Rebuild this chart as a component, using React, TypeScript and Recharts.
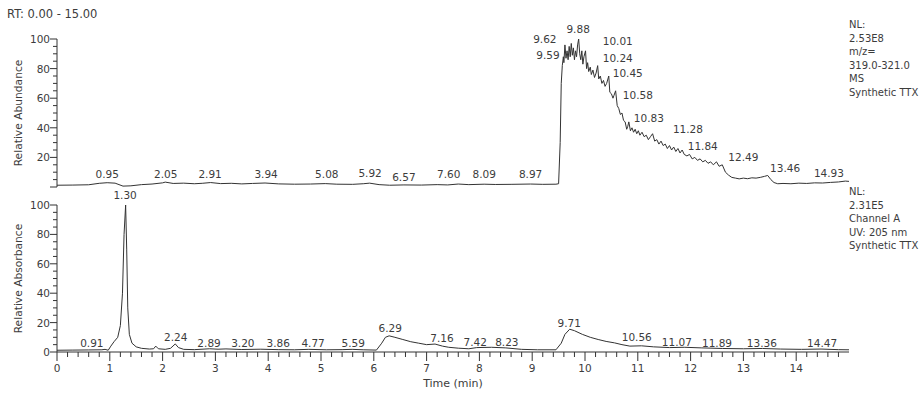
import React from 'react';
import { LineChart, Line, XAxis, YAxis, ReferenceDot } from 'recharts';

const FONT = '"DejaVu Sans", Verdana, sans-serif';
const INK = '#333';
const TEXT = '#3c3c3c';

// MS trace, m/z 319.0-321.0 (relative abundance)
const msTime = [
  0, 0.3, 0.6, 0.8, 0.95, 1.1, 1.25, 1.4, 1.6, 1.8, 2.0, 2.05, 2.2, 2.4, 2.6, 2.75, 2.91, 3.1, 3.3, 3.5,
  3.7, 3.94, 4.2, 4.5, 4.8, 5.08, 5.3, 5.6, 5.8, 5.92, 6.1, 6.3, 6.57, 6.9, 7.2, 7.4, 7.6, 7.8, 8.09, 8.3,
  8.6, 8.97, 9.2, 9.45, 9.5, 9.53, 9.55, 9.57, 9.59, 9.6, 9.62, 9.64, 9.66, 9.68, 9.7, 9.72, 9.74, 9.76, 9.78, 9.8,
  9.82, 9.84, 9.86, 9.88, 9.9, 9.92, 9.94, 9.96, 9.98, 10.01, 10.03, 10.05, 10.07, 10.1, 10.12, 10.15, 10.18, 10.21, 10.24, 10.26,
  10.29, 10.32, 10.35, 10.38, 10.41, 10.45, 10.47, 10.5, 10.53, 10.55, 10.58, 10.61, 10.64, 10.67, 10.7, 10.73, 10.76, 10.79, 10.81, 10.83,
  10.86, 10.89, 10.92, 10.95, 10.98, 11.01, 11.04, 11.08, 11.12, 11.16, 11.2, 11.24, 11.28, 11.32, 11.36, 11.4, 11.44, 11.48, 11.52, 11.56,
  11.6, 11.64, 11.68, 11.72, 11.76, 11.8, 11.84, 11.88, 11.93, 11.98, 12.03, 12.08, 12.13, 12.18, 12.23, 12.28, 12.33, 12.38, 12.43, 12.49,
  12.54, 12.6, 12.66, 12.72, 12.78, 12.85, 12.92, 13.0, 13.08, 13.16, 13.24, 13.32, 13.4, 13.46, 13.52, 13.58, 13.65, 13.75, 13.9, 14.05,
  14.2, 14.35, 14.5, 14.65, 14.8, 14.93, 15.0,
];
const msAbundance = [
  1.2, 1.3, 1.5, 2.5, 2.9, 2.6, 0.6, 0.8, 1.6, 2.0, 2.8, 3.3, 2.4, 2.6, 2.2, 2.5, 3.0, 2.3, 2.5, 2.1,
  2.4, 2.7, 2.1, 1.9, 2.0, 2.3, 1.9, 1.8, 2.2, 2.6, 1.6, 1.2, 1.4, 1.3, 1.6, 1.4, 2.0, 1.6, 1.9, 1.7,
  1.8, 2.0, 1.8, 1.9, 2.2, 30, 70, 82, 88, 84, 96, 87, 92, 86, 95, 88, 97, 89, 94, 86,
  92, 88, 96, 100, 90, 86, 92, 83, 88, 92, 80, 84, 78, 81, 76, 79, 74, 77, 82, 73,
  75, 70, 72, 68, 70, 75, 64, 63, 60, 62, 65, 55, 53, 49, 50, 45, 44, 39, 41, 44,
  38, 40, 37, 39, 36, 38, 35, 37, 34, 35, 32, 34, 36, 31, 32, 29, 31, 28, 29, 26,
  28, 25, 27, 24, 26, 23, 25, 22, 21, 22, 19, 20, 18, 19, 17, 18, 16, 17, 15, 17,
  14, 15, 10, 8, 6.5, 6, 5.5, 6, 5.6, 6.2, 6, 6.5, 7.2, 7.8, 5, 3, 2.2, 2.4, 2.2, 2.6,
  2.4, 2.8, 2.7, 3.1, 3.4, 4.0, 3.8,
];

// UV trace, channel A 205 nm (relative absorbance)
const uvTime = [
  0, 0.3, 0.6, 0.85, 0.91, 0.97, 1.02, 1.08, 1.15, 1.2, 1.24, 1.27, 1.3, 1.32, 1.34, 1.37, 1.42, 1.5, 1.6, 1.75,
  1.83, 1.87, 1.92, 2.05, 2.15, 2.24, 2.3, 2.4, 2.6, 2.89, 3.05, 3.2, 3.5, 3.86, 4.2, 4.5, 4.77, 5.1, 5.4, 5.59,
  5.8, 6.05, 6.15, 6.22, 6.29, 6.4, 6.55, 6.7, 6.85, 7.0, 7.16, 7.3, 7.42, 7.6, 7.8, 7.95, 8.23, 8.5, 8.8, 9.1,
  9.45, 9.55, 9.62, 9.71, 9.8, 9.95, 10.1, 10.25, 10.4, 10.56, 10.7, 10.85, 11.07, 11.3, 11.6, 11.89, 12.2, 12.6, 13.0, 13.36,
  13.7, 14.1, 14.47, 14.8, 15.0,
];
const uvAbsorbance = [
  1.2, 1.3, 1.4, 1.5, 1.8, 1.2, 4, 7, 10, 18, 40, 80, 100, 70, 30, 12, 6, 3.5, 2.5, 2,
  2.2, 4, 2.2, 1.8, 2.5, 5.5, 3, 1.8, 1.6, 2.2, 1.9, 2.1, 1.7, 1.9, 1.6, 1.5, 1.8, 1.5, 1.6, 1.8,
  1.5, 1.3, 6, 10, 11, 10, 8.5, 7, 6, 5, 5.4, 4, 3.2, 2.6, 2.2, 3, 3.2, 2.8, 1.8, 1.5,
  1.5, 6, 12, 15.5, 14.5, 12, 10, 8.5, 7.2, 6.2, 5, 4, 4.2, 3.5, 3, 3.2, 2.8, 2.4, 2.2, 2.4,
  2, 1.8, 2, 1.6, 1.5,
];

// peak labels: text and where it sits (time, level)
const msPeakText = ['0.95', '2.05', '2.91', '3.94', '5.08', '5.92', '6.57', '7.60', '8.09', '8.97', '9.62', '9.59', '9.88',
  '10.01', '10.24', '10.45', '10.58', '10.83', '11.28', '11.84', '12.49', '13.46', '14.93'];
const msPeakTime = [0.95, 2.06, 2.9, 3.96, 5.11, 5.93, 6.57, 7.42, 8.09, 8.97, 9.24, 9.3, 9.87,
  10.62, 10.62, 10.81, 11.0, 11.21, 11.95, 12.23, 13.0, 13.79, 14.62];
const msPeakLevel = [8.8, 8.8, 8.8, 8.8, 8.8, 9.5, 6.8, 8.8, 8.8, 8.8, 100, 89, 107,
  98.6, 87, 77, 62, 46.6, 39, 27.7, 20, 12.8, 9.5];

const uvPeakText = ['0.91', '1.30', '2.24', '2.89', '3.20', '3.86', '4.77', '5.59', '6.29', '7.16', '7.42', '8.23',
  '9.71', '10.56', '11.07', '11.89', '13.36', '14.47'];
const uvPeakTime = [0.66, 1.29, 2.25, 2.88, 3.52, 4.19, 4.85, 5.61, 6.31, 7.29, 7.92, 8.52,
  9.7, 10.98, 11.74, 12.5, 13.35, 14.49];
const uvPeakLevel = [6, 107, 10, 6, 6, 6, 6, 6, 16, 9.5, 7, 7,
  20, 10, 7, 6, 6, 6];

const xLabels = [0, 1, 2, 3, 4, 5, 6, 7, 8, 9, 10, 11, 12, 13, 14];
const yTicks = [0, 5, 10, 15, 20, 25, 30, 35, 40, 45, 50, 55, 60, 65, 70, 75, 80, 85, 90, 95, 100];
const msYLabels = [20, 40, 60, 80, 100];
const uvYLabels = [0, 20, 40, 60, 80, 100];

const msInfo = ['NL:', '2.53E8', 'm/z=', '319.0-321.0', 'MS', 'Synthetic TTX'];
const uvInfo = ['NL:', '2.31E5', 'Channel A', 'UV: 205 nm', 'Synthetic TTX'];

const xTicks = xLabels.flatMap(v => [0, 0.2, 0.4, 0.6, 0.8].map(s => +(v + s).toFixed(1)));

const msData = msTime.map((t, i) => ({ t, v: msAbundance[i] }));
const uvData = uvTime.map((t, i) => ({ t, v: uvAbsorbance[i] }));

const textStyle = { fontFamily: FONT, fontSize: 10.5, fill: TEXT };

const makeYTick = (labels: number[]) => (props: any) => {
  const { x, y, payload } = props;
  const major = labels.includes(payload.value) || payload.value === 0;
  const shown = labels.includes(payload.value);
  return (
    <g>
      <line x1={x - (major ? 7 : 4)} x2={x} y1={y} y2={y} stroke={INK} strokeWidth={1} />
      {shown && (
        <text x={x - 7} y={y} dy={4} textAnchor="end" style={textStyle}>{payload.value}</text>
      )}
    </g>
  );
};

const XTick = (props: any) => {
  const { x, y, payload } = props;
  const major = xLabels.includes(payload.value);
  return (
    <g>
      <line x1={x} x2={x} y1={y} y2={y + (major ? 9 : 5)} stroke={INK} strokeWidth={1} />
      {major && (
        <text x={x} y={y + 20} textAnchor="middle" style={textStyle}>{payload.value}</text>
      )}
    </g>
  );
};

const peakLabel = (text: string) => (p: any) => (
  <text x={p.cx} y={p.cy} dy={4} textAnchor="middle" style={textStyle}>{text}</text>
);

const yTitle = (title: string) => (p: any) => {
  const vb = p.viewBox;
  const cy = vb.y + vb.height / 2;
  return (
    <text x={18} y={cy} transform={`rotate(-90, 18, ${cy})`} dy={4} textAnchor="middle" style={{ ...textStyle, fontSize: 10.7 }}>
      {title}
    </text>
  );
};

const InfoBlock = ({ lines, top }: { lines: string[]; top: number }) => (
  <div style={{ position: 'absolute', left: 849, top, fontFamily: FONT, fontSize: 10, lineHeight: '13.6px', color: TEXT, whiteSpace: 'nowrap' }}>
    {lines.map(l => <div key={l}>{l}</div>)}
  </div>
);

export default function App() {
  return (
    <div style={{ position: 'absolute', left: 0, top: 0, width: 922, height: 394, background: '#fff', overflow: 'hidden' }}>
      <div style={{ position: 'absolute', left: 7, top: 7, fontFamily: FONT, fontSize: 11.5, color: TEXT }}>
        RT: 0.00 - 15.00
      </div>

      <div style={{ position: 'absolute', left: 0, top: 0 }}>
        <LineChart width={922} height={200} data={msData} margin={{ top: 39, right: 73, bottom: 13, left: 0 }}>
          <XAxis dataKey="t" type="number" domain={[0, 15]} allowDataOverflow tick={false} tickLine={false} height={0} axisLine={{ stroke: INK }} />
          <YAxis type="number" domain={[0, 100]} allowDataOverflow width={57} ticks={yTicks} interval={0}
            tickSize={0} tickMargin={0} tickLine={false} axisLine={{ stroke: INK }} tick={makeYTick(msYLabels)}
            label={{ content: yTitle('Relative Abundance') }} />
          <Line dataKey="v" type="linear" stroke={INK} strokeWidth={1} dot={false} isAnimationActive={false} />
          {msPeakText.map((txt, i) => (
            <ReferenceDot key={txt + i} x={msPeakTime[i]} y={msPeakLevel[i]} r={0} ifOverflow="visible" shape={peakLabel(txt)} />
          ))}
        </LineChart>
      </div>

      <div style={{ position: 'absolute', left: 0, top: 190 }}>
        <LineChart width={922} height={204} data={uvData} margin={{ top: 15, right: 73, bottom: 12, left: 0 }}>
          <XAxis dataKey="t" type="number" domain={[0, 15]} allowDataOverflow ticks={xTicks} interval={0}
            tickSize={0} tickMargin={0} tickLine={false} height={30} axisLine={{ stroke: INK }} tick={XTick}
            label={{ content: (p: any) => (
              <text x={p.viewBox.x + p.viewBox.width / 2} y={p.viewBox.y + 35} textAnchor="middle" style={{ ...textStyle, fontSize: 11 }}>Time (min)</text>
            ) }} />
          <YAxis type="number" domain={[0, 100]} allowDataOverflow width={57} ticks={yTicks} interval={0}
            tickSize={0} tickMargin={0} tickLine={false} axisLine={{ stroke: INK }} tick={makeYTick(uvYLabels)}
            label={{ content: yTitle('Relative Absorbance') }} />
          <Line dataKey="v" type="linear" stroke={INK} strokeWidth={1} dot={false} isAnimationActive={false} />
          {uvPeakText.map((txt, i) => (
            <ReferenceDot key={txt + i} x={uvPeakTime[i]} y={uvPeakLevel[i]} r={0} ifOverflow="visible" shape={peakLabel(txt)} />
          ))}
        </LineChart>
      </div>

      <InfoBlock lines={msInfo} top={18} />
      <InfoBlock lines={uvInfo} top={185} />
    </div>
  );
}
